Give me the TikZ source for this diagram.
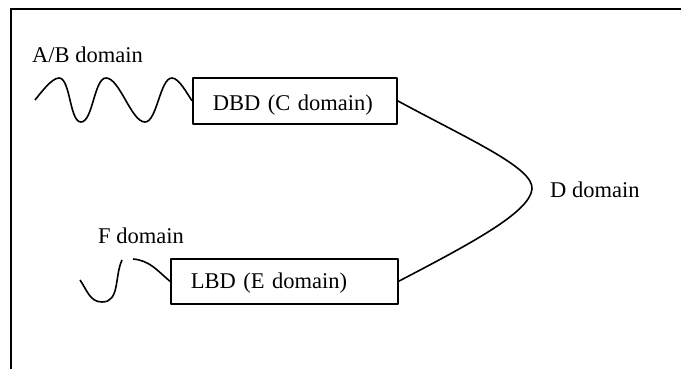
\documentclass[tikz,border=0pt]{standalone}
\usepackage{fontspec}
\setmainfont{Liberation Serif}
\begin{document}
\begin{tikzpicture}[x=1pt,y=1pt,
  ln/.style={line width=1.6pt, line join=round},
  lbl/.style={anchor=base west, inner sep=0pt, font=\fontsize{22.5}{26}\selectfont},
  domainbox/.style={ln, draw, anchor=north west, inner xsep=20pt, inner ysep=0pt,
    align=left, font=\fontsize{22.5}{26}\selectfont}]
  % page area
  \useasboundingbox (0,0) rectangle (681,-369);
  % open frame: left and top edges only
  \draw[line width=2pt] (11,-369) -- (11,-9) -- (681,-9);

  % domain boxes
  \node[domainbox, text width=164pt, text height=33pt, text depth=13pt]
    (dbd) at (192,-77) {DBD (C domain)};
  \node[domainbox, text width=187pt, text height=30pt, text depth=15pt]
    (lbd) at (170,-258) {LBD (E domain)};

  % labels
  \node[lbl] (ab) at (32,-63) {A/B domain};
  \node[lbl] (f)  at (98,-243) {F domain};
  \node[lbl] (d)  at (550,-197) {D domain};

  % A/B domain wave leading into the DBD box
  \coordinate (w0) at (35,-100);
  \coordinate (w1) at (59,-78);
  \coordinate (w2) at (81,-122);
  \coordinate (w3) at (106,-78);
  \coordinate (w4) at (145,-122);
  \coordinate (w5) at (172,-78);
  \draw[ln, looseness=0.6] (w0) to[out=50,in=180] (w1) to[out=0,in=180] (w2)
    to[out=0,in=180] (w3) to[out=0,in=180] (w4) to[out=0,in=180] (w5)
    to[out=0,in=125] (dbd.west);

  % F domain wave (broken) leading into the LBD box
  \coordinate (f0) at (80,-280);
  \coordinate (f1) at (102,-302);
  \coordinate (f2) at (122,-260);
  \coordinate (f3) at (133,-259);
  \draw[ln] (f0) to[out=-55,in=180] (f1) to[out=0,in=-115] (f2);
  \draw[ln] (f3) to[out=-5,in=140] (lbd.west);

  % D domain linker between the two boxes
  \draw[ln] (dbd.east) .. controls (470,-140) and (534,-168) .. (532,-189)
    .. controls (530,-212) and (472,-243) .. (lbd.east);
\end{tikzpicture}
\end{document}
